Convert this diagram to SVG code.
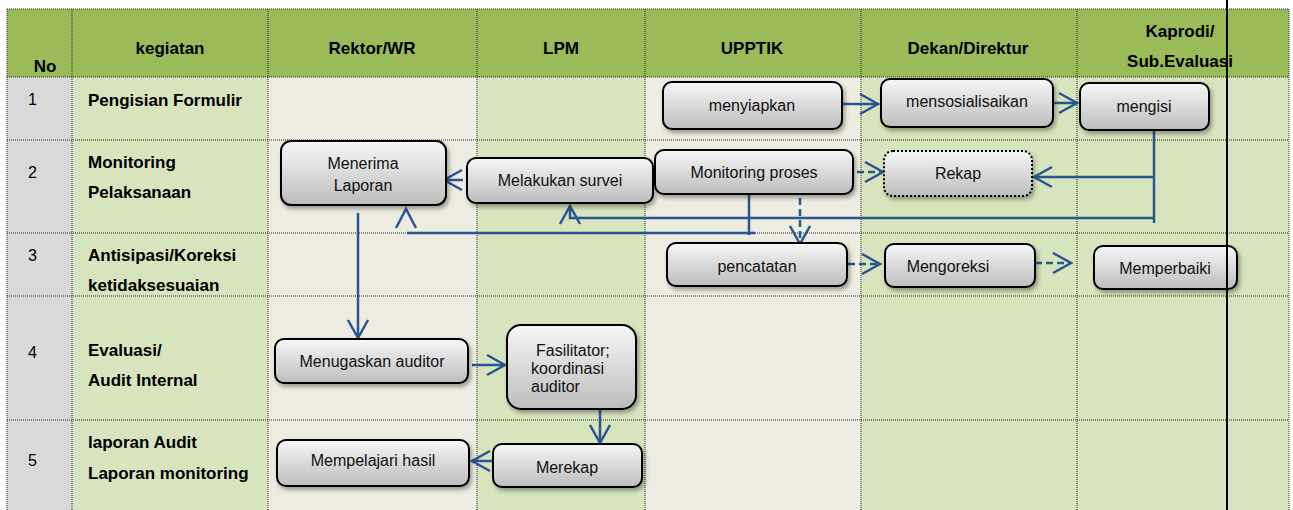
<svg xmlns="http://www.w3.org/2000/svg" width="1293" height="510" viewBox="0 0 1293 510">
<style>
.hdr{font-family:"Liberation Sans",Arial,sans-serif;font-size:17px;font-weight:bold;fill:#000;text-anchor:middle}
.lbl{font-family:"Liberation Sans",Arial,sans-serif;font-size:17px;font-weight:bold;fill:#000}
.num{font-family:"Liberation Sans",Arial,sans-serif;font-size:16px;fill:#000}
.bt{font-family:"Liberation Sans",Arial,sans-serif;font-size:16px;fill:#111;text-anchor:middle}
.btl{font-family:"Liberation Sans",Arial,sans-serif;font-size:16px;fill:#111}
.box{fill:url(#g);stroke:#000;stroke-width:2;filter:url(#sh)}
.dot{fill:url(#g);stroke:#000;stroke-width:2;stroke-dasharray:2,2;filter:url(#sh)}
.grid{stroke:#222;stroke-width:1;stroke-dasharray:1,1;fill:none}
.c{stroke:#2B5592;stroke-width:2.5;fill:none}
.d{stroke:#2B5592;stroke-width:2.5;fill:none;stroke-dasharray:7,4}
</style>
<defs>
<linearGradient id="g" x1="0" y1="0" x2="0" y2="1">
<stop offset="0" stop-color="#F7F7F7"/>
<stop offset="1" stop-color="#BDBDBD"/>
</linearGradient>
<filter id="sh" x="-10%" y="-10%" width="130%" height="140%">
<feDropShadow dx="2" dy="3" stdDeviation="2" flood-color="#000" flood-opacity="0.35"/>
</filter>
<marker id="a" markerUnits="userSpaceOnUse" markerWidth="22" markerHeight="24" refX="18" refY="10" orient="auto" overflow="visible">
<path d="M0,0 L18,10 L0,20" fill="none" stroke="#2B5592" stroke-width="2.5" stroke-dasharray="none"/>
</marker>
</defs>

<g id="table">
<rect x="7" y="9" width="1282" height="68" fill="#9BBB59"/>
<rect x="7" y="77" width="65" height="433" fill="#D9D9D9"/>
<rect x="72" y="77" width="196" height="433" fill="#D7E4BD"/>
<rect x="268" y="77" width="209" height="433" fill="#EEECE1"/>
<rect x="477" y="77" width="168" height="433" fill="#D7E4BD"/>
<rect x="645" y="77" width="216" height="433" fill="#EEECE1"/>
<rect x="861" y="77" width="428" height="433" fill="#D7E4BD"/>
<path class="grid" d="M7,9 H1289 M7,77 H1289 M7,140 H1289 M7,233 H1289 M7,296 H1289 M7,420 H1289 M7,9 V510 M72,9 V510 M268,9 V510 M477,9 V510 M645,9 V510 M861,9 V510 M1077,9 V510 M1289,9 V510"/>
<text class="hdr" x="45" y="72">No</text>
<text class="hdr" x="170" y="54">kegiatan</text>
<text class="hdr" x="372" y="54">Rektor/WR</text>
<text class="hdr" x="561" y="54">LPM</text>
<text class="hdr" x="752" y="54">UPPTIK</text>
<text class="hdr" x="968" y="54">Dekan/Direktur</text>
<text class="hdr" x="1180" y="37">Kaprodi/</text>
<text class="hdr" x="1180" y="67">Sub.Evaluasi</text>
<text class="num" x="28" y="105">1</text>
<text class="num" x="28" y="178">2</text>
<text class="num" x="28" y="261">3</text>
<text class="num" x="28" y="358">4</text>
<text class="num" x="28" y="466">5</text>
<text class="lbl" x="88" y="106">Pengisian Formulir</text>
<text class="lbl" x="88" y="168">Monitoring</text>
<text class="lbl" x="88" y="198">Pelaksanaan</text>
<text class="lbl" x="88" y="261">Antisipasi/Koreksi</text>
<text class="lbl" x="88" y="291">ketidaksesuaian</text>
<text class="lbl" x="88" y="356">Evaluasi/</text>
<text class="lbl" x="88" y="386">Audit Internal</text>
<text class="lbl" x="88" y="448">laporan Audit</text>
<text class="lbl" x="88" y="479">Laporan monitoring</text>
</g>

<g id="connectors">
<path class="c" d="M842,104 H878" marker-end="url(#a)"/>
<path class="c" d="M1053,103 H1077" marker-end="url(#a)"/>
<path class="c" d="M1154,130 V223"/>
<path class="c" d="M1154,177 H1034" marker-end="url(#a)"/>
<path class="c" d="M1154,218 H570 V206" marker-end="url(#a)"/>
<path class="c" d="M749,194 V235 M755,233 H407"/>
<path class="c" d="M396,228 L406,209 L416,228"/>
<path class="d" d="M824,172 H883" marker-end="url(#a)"/>
<path class="d" d="M800,198 V244" marker-end="url(#a)"/>
<path class="d" d="M804,264 H880" marker-end="url(#a)"/>
<path class="d" d="M1035,263 H1071" marker-end="url(#a)"/>
<path class="c" d="M463,180 H444" marker-end="url(#a)"/>
<path class="c" d="M358,213 V338" marker-end="url(#a)"/>
<path class="c" d="M472,365 H505" marker-end="url(#a)"/>
<path class="c" d="M600,409 V443" marker-end="url(#a)"/>
<path class="c" d="M493,461 H472" marker-end="url(#a)"/>
</g>

<g id="n-menyiapkan"><rect class="box" x="663" y="82" width="179" height="47" rx="9"/><text class="bt" x="752" y="111">menyiapkan</text></g>
<g id="n-mensosialisaikan"><rect class="box" x="881" y="79" width="172" height="48" rx="9"/><text class="bt" x="967" y="107">mensosialisaikan</text></g>
<g id="n-mengisi"><rect class="box" x="1080" y="83" width="129" height="47" rx="9"/><text class="bt" x="1144" y="112">mengisi</text></g>
<g id="n-menerima"><rect class="box" x="281" y="141" width="165" height="64" rx="10"/><text class="bt" x="363" y="169">Menerima</text><text class="bt" x="363" y="191">Laporan</text></g>
<g id="n-survei"><rect class="box" x="467" y="158" width="186" height="45" rx="9"/><text class="bt" x="560" y="186">Melakukan survei</text></g>
<g id="n-monitoring"><rect class="box" x="655" y="150" width="198" height="44" rx="9"/><text class="bt" x="754" y="178">Monitoring proses</text></g>
<g id="n-rekap"><rect class="dot" x="884" y="151" width="148" height="45" rx="9"/><text class="bt" x="958" y="179">Rekap</text></g>
<g id="n-pencatatan"><rect class="box" x="667" y="243" width="180" height="43" rx="9"/><text class="bt" x="757" y="272">pencatatan</text></g>
<g id="n-mengoreksi"><rect class="box" x="885" y="244" width="150" height="43" rx="9"/><text class="bt" x="948" y="272">Mengoreksi</text></g>
<g id="n-memperbaiki"><rect class="box" x="1094" y="246" width="143" height="43" rx="9"/><text class="bt" x="1165" y="274">Memperbaiki</text></g>
<g id="n-menugaskan"><rect class="box" x="275" y="339" width="193" height="44" rx="9"/><text class="bt" x="372" y="367">Menugaskan auditor</text></g>
<g id="n-fasilitator"><rect class="box" x="507" y="325" width="129" height="84" rx="14"/><text class="btl" x="536" y="356">Fasilitator;</text><text class="btl" x="531" y="374">koordinasi</text><text class="btl" x="531" y="392">auditor</text></g>
<g id="n-mempelajari"><rect class="box" x="277" y="440" width="192" height="46" rx="9"/><text class="bt" x="373" y="466">Mempelajari hasil</text></g>
<g id="n-merekap"><rect class="box" x="493" y="444" width="149" height="43" rx="9"/><text class="bt" x="567" y="473">Merekap</text></g>

<g id="divider"><line x1="1227" y1="0" x2="1227" y2="510" stroke="#000" stroke-width="2"/></g>
</svg>
